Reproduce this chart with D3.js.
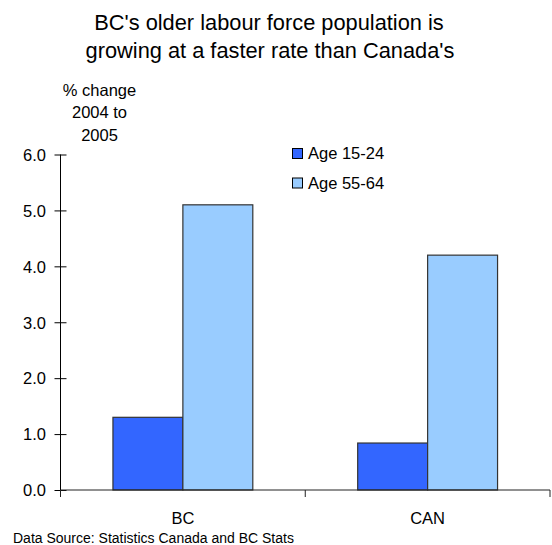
<!DOCTYPE html>
<html>
<head>
<meta charset="utf-8">
<script src="https://cdn.jsdelivr.net/npm/d3@7"></script>
<style>
  html, body { margin: 0; padding: 0; background: #fff; }
  svg { display: block; font-family: "Liberation Sans", Arial, sans-serif; }
</style>
</head>
<body>
<svg id="chart" width="552" height="545"></svg>
<script>
// Labour force growth, 2004 to 2005 (% change)
const categories = ["BC", "CAN"];
const seriesNames = ["Age 15-24", "Age 55-64"];
const age15to24 = [1.3, 0.84];
const age55to64 = [5.1, 4.2];
const yTicks = [0, 1, 2, 3, 4, 5, 6];
const seriesColors = ["#3366FF", "#99CCFF"];

const svg = d3.select("#chart");
const width = 552, height = 545;
const plotLeft = 60.5, plotRight = 550;
const plotTop = 154.5, plotBottom = 490;

const x = d3.scaleBand().domain(categories).range([plotLeft, plotRight]);
const x1 = d3.scaleBand().domain(seriesNames).range([0, x.bandwidth()])
  .paddingOuter(0.75).paddingInner(0);
const y = d3.scaleLinear().domain([0, 6]).range([plotBottom, plotTop]);

// Title
svg.append("text").attr("x", 269).attr("y", 30).attr("text-anchor", "middle")
  .attr("font-size", 21.8).text("BC's older labour force population is");
svg.append("text").attr("x", 270).attr("y", 57.5).attr("text-anchor", "middle")
  .attr("font-size", 21.8).text("growing at a faster rate than Canada's");

// Y axis title
["% change", "2004 to", "2005"].forEach((t, i) => {
  svg.append("text").attr("x", 99.5).attr("y", 96 + i * 22.3).attr("text-anchor", "middle")
    .attr("font-size", 16.5).text(t);
});

// Bars
const rows = categories.map((c, i) => ({ cat: c, vals: [age15to24[i], age55to64[i]] }));
const groups = svg.append("g").selectAll("g").data(rows).join("g")
  .attr("transform", d => `translate(${x(d.cat)},0)`);
groups.selectAll("rect")
  .data(d => d.vals.map((v, j) => ({ name: seriesNames[j], v, j })))
  .join("rect")
  .attr("x", d => x1(d.name))
  .attr("y", d => y(d.v))
  .attr("width", x1.bandwidth())
  .attr("height", d => y(0) - y(d.v))
  .attr("fill", d => seriesColors[d.j])
  .attr("stroke", "#333")
  .attr("stroke-width", 1.2);

// Y axis
const yAxis = d3.axisLeft(y).tickValues(yTicks).tickFormat(d3.format(".1f"))
  .tickSize(6).tickPadding(8.5);
const gy = svg.append("g").attr("transform", `translate(${plotLeft},0)`).call(yAxis);
gy.select(".domain").attr("stroke", "#000").attr("d", `M0,${plotTop}V${plotBottom}`);
gy.selectAll(".tick line").attr("x1", -6).attr("x2", 6).attr("stroke", "#000");
gy.selectAll(".tick text").attr("font-size", 16.5).attr("font-family", "Liberation Sans, Arial, sans-serif")
  .attr("fill", "#000").attr("dy", "0.35em");

// X axis
const gx = svg.append("g").attr("transform", `translate(0,${plotBottom})`);
gx.append("line").attr("x1", plotLeft).attr("x2", plotRight).attr("y1", 0).attr("y2", 0)
  .attr("stroke", "#222");
const boundaries = categories.map(c => x(c)).concat([x(categories[categories.length - 1]) + x.bandwidth()]);
gx.selectAll(".bt").data(boundaries).join("line")
  .attr("x1", d => d).attr("x2", d => d).attr("y1", 0).attr("y2", 7).attr("stroke", "#222");
gx.selectAll(".cl").data(categories).join("text")
  .attr("x", d => x(d) + x.bandwidth() / 2).attr("y", 34)
  .attr("text-anchor", "middle").attr("font-size", 16.5).text(d => d);

// Legend
const legend = svg.append("g").attr("transform", "translate(292.5,148.5)");
seriesNames.forEach((n, i) => {
  const g = legend.append("g").attr("transform", `translate(0,${i * 29.5})`);
  g.append("rect").attr("x", 0).attr("y", 0).attr("width", 10).attr("height", 10)
    .attr("fill", seriesColors[i]).attr("stroke", "#000").attr("stroke-width", 1);
  g.append("text").attr("x", 15.5).attr("y", 10.5).attr("font-size", 16.5).text(n);
});

// Source note
svg.append("text").attr("x", 13).attr("y", 543).attr("font-size", 14)
  .text("Data Source: Statistics Canada and BC Stats");
</script>
</body>
</html>
